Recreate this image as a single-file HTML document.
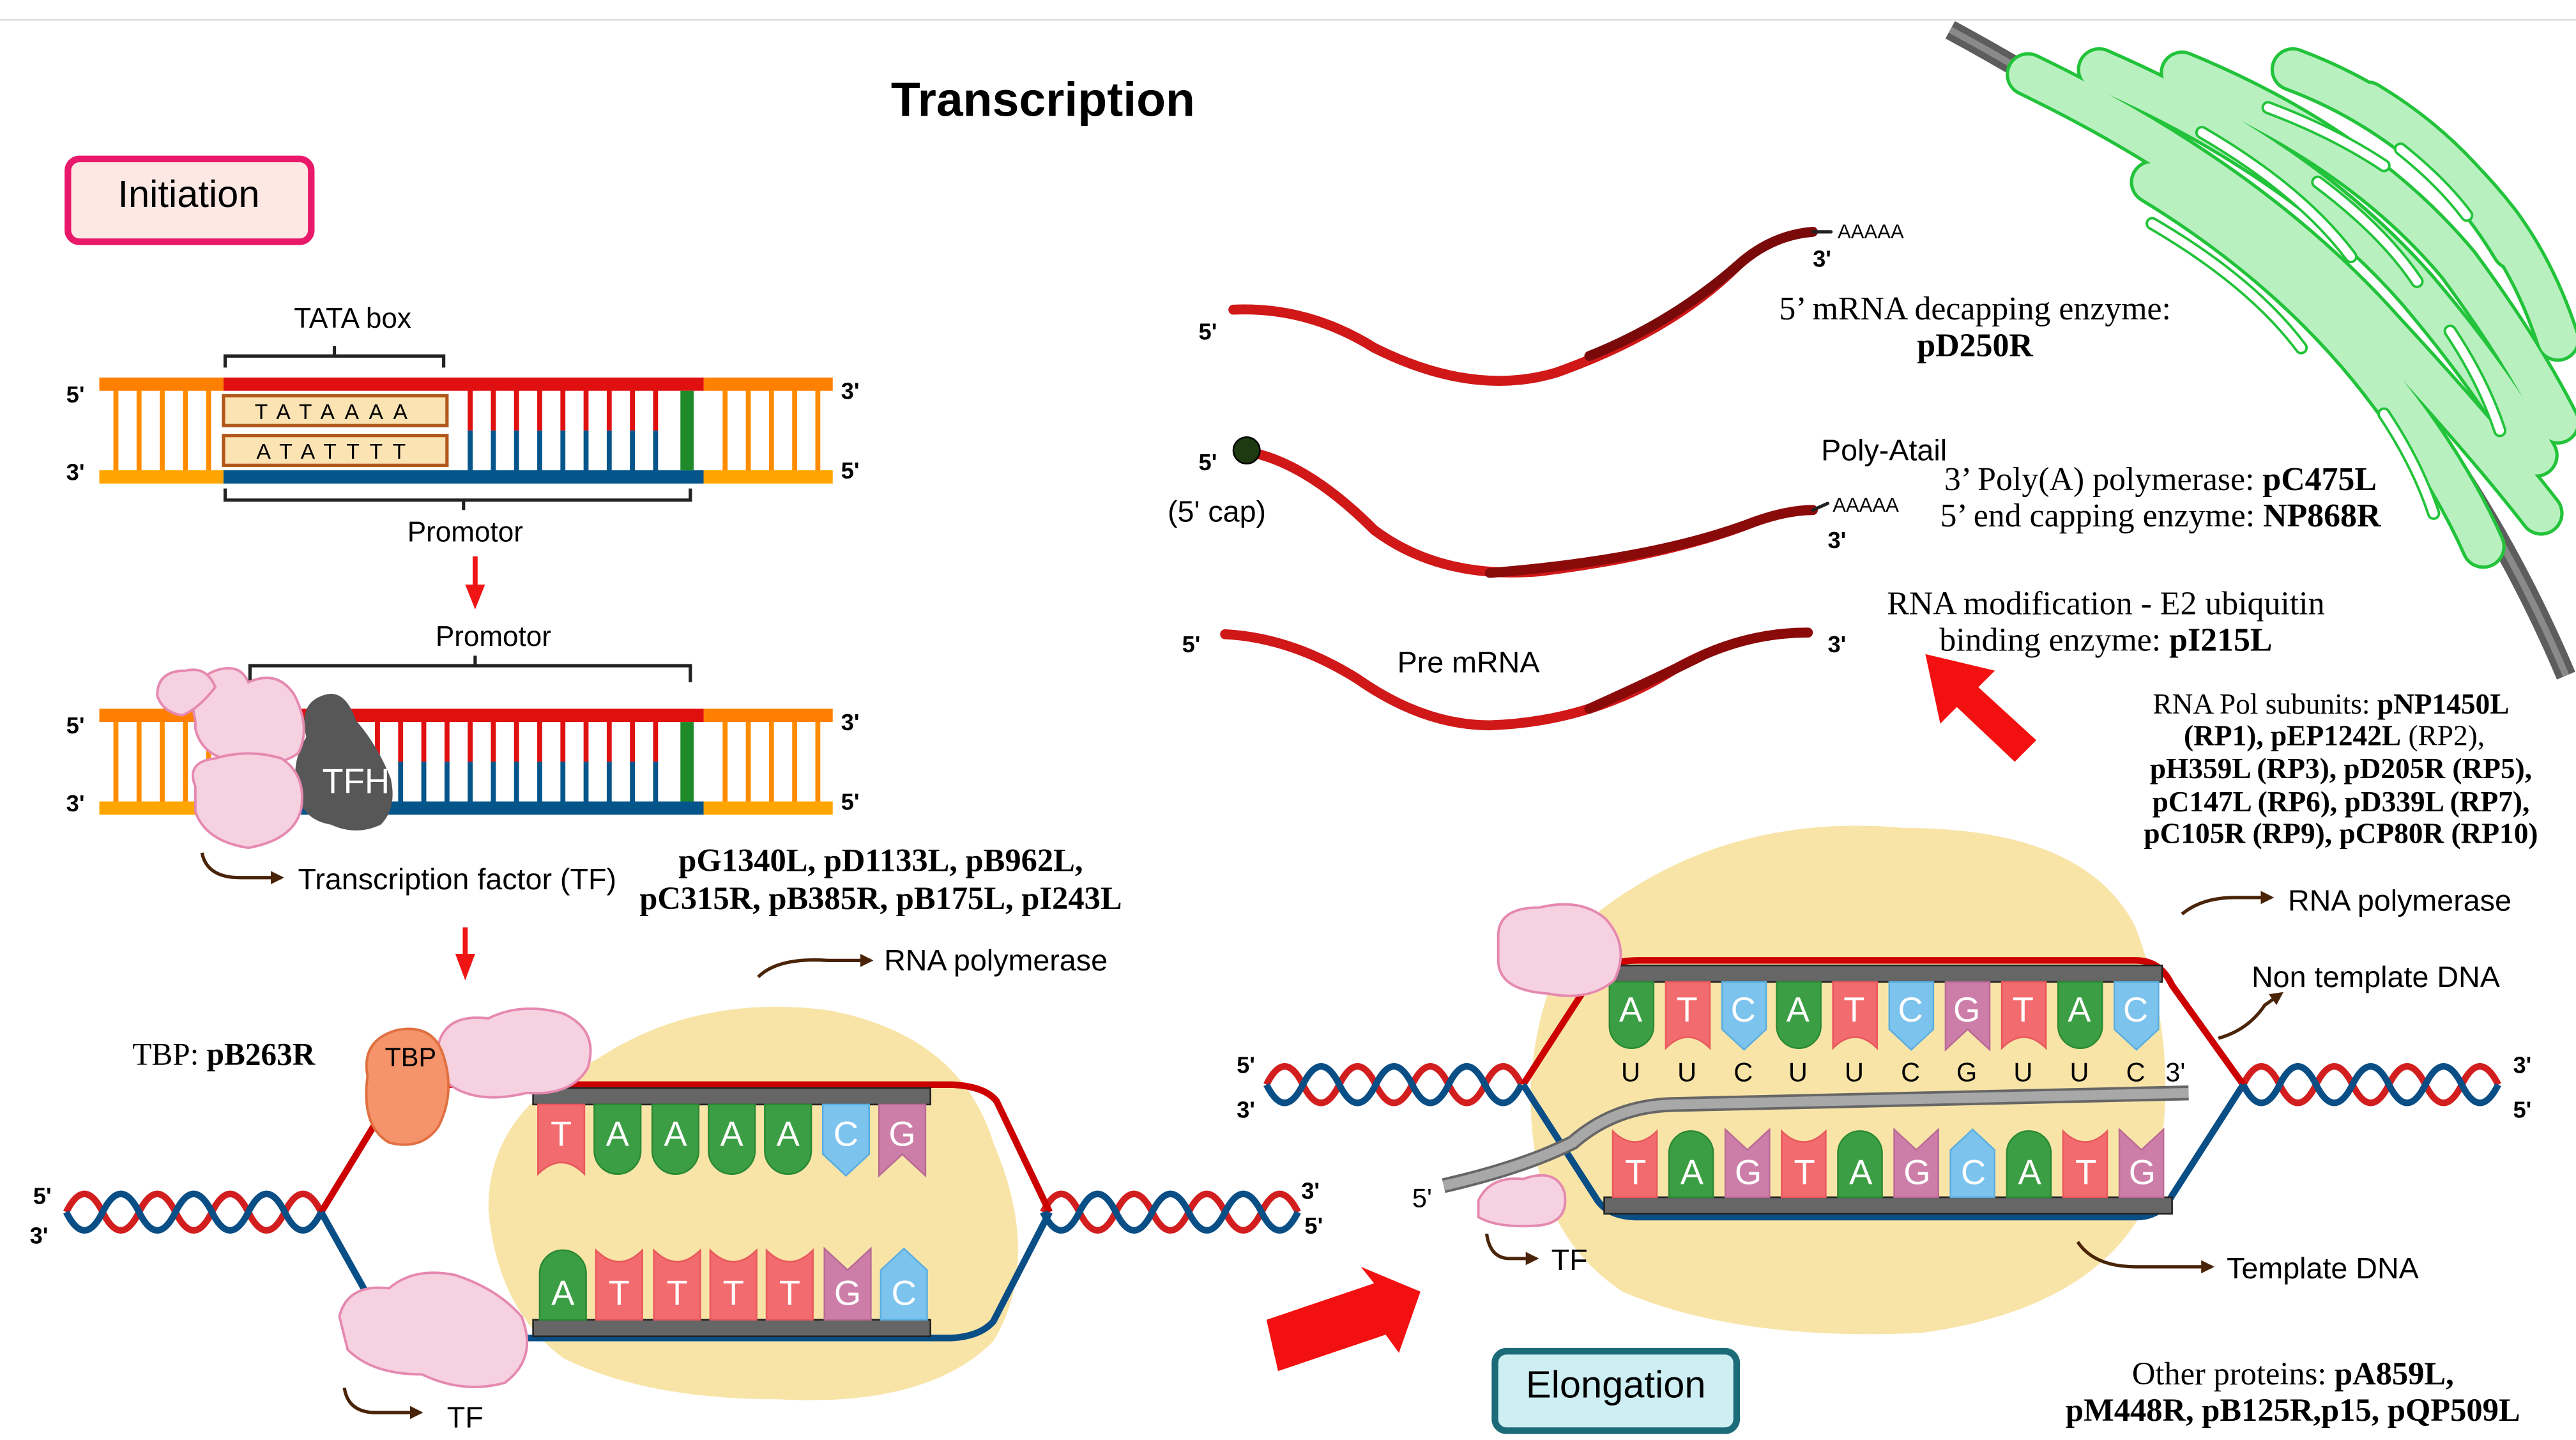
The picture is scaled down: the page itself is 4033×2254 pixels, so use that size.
<!DOCTYPE html>
<html><head><meta charset="utf-8"><style>
html,body{margin:0;padding:0;background:#fff;}
svg{display:block}
.s{font-family:"Liberation Sans",Arial,sans-serif;}
.r{font-family:"Liberation Serif","Times New Roman",serif;}
.tl{font-family:"Liberation Sans",Arial,sans-serif;fill:#fff;font-size:21px;text-anchor:middle;}
</style></head><body>
<svg width="4033" height="2254" viewBox="0 0 1556 869.6" preserveAspectRatio="none" xmlns="http://www.w3.org/2000/svg" xml:space="preserve">
<defs>
<symbol id="tA" viewBox="0 0 28 42" overflow="visible"><path d="M0,0H28V28A14,14 0 0 1 0,28Z" fill="#3c9e44" stroke="#2a8a33" stroke-width="1"/></symbol>
<symbol id="tT" viewBox="0 0 28 42" overflow="visible"><path d="M0,0H28V42Q14,28 0,42Z" fill="#f26b6e" stroke="#e8595d" stroke-width="1"/></symbol>
<symbol id="tC" viewBox="0 0 28 42" overflow="visible"><path d="M0,0H28V30L14,43L0,30Z" fill="#7cc3ed" stroke="#5aaee0" stroke-width="1"/></symbol>
<symbol id="tG" viewBox="0 0 28 42" overflow="visible"><path d="M0,0H28V43L14,30L0,43Z" fill="#cd7ea8" stroke="#b96a95" stroke-width="1"/></symbol>
<marker id="ah" viewBox="0 0 10 10" refX="8" refY="5" markerWidth="4" markerHeight="4" orient="auto"><path d="M0,0L10,5L0,10Z" fill="#4a2408"/></marker>
</defs>

<line x1="0" y1="12" x2="1556" y2="12" stroke="#ddd" stroke-width="1"/>

<!-- membrane + ER -->
<path d="M1178,18 Q1330,100 1420,200 Q1500,290 1550,408" fill="none" stroke="#5d5d5d" stroke-width="12"/>
<path d="M1178,18 Q1330,100 1420,200 Q1500,290 1550,408" fill="none" stroke="#8a8a8a" stroke-width="4"/>
<g fill="none" stroke-linecap="round">
<g stroke="#22c33a" stroke-width="27">
<path d="M1225,45 Q1360,110 1440,200 Q1500,265 1535,310"/>
<path d="M1300,110 Q1390,165 1445,240 Q1480,285 1500,330"/>
<path d="M1268,42 Q1390,95 1460,175 Q1505,228 1532,275"/>
<path d="M1318,44 Q1425,88 1485,160 Q1522,210 1545,255"/>
<path d="M1385,42 Q1460,70 1510,135 Q1532,165 1545,205"/>
<path d="M1430,62 Q1485,95 1518,150"/>
</g>
<g stroke="#b9f0c0" stroke-width="23">
<path d="M1225,45 Q1360,110 1440,200 Q1500,265 1535,310"/>
<path d="M1300,110 Q1390,165 1445,240 Q1480,285 1500,330"/>
<path d="M1268,42 Q1390,95 1460,175 Q1505,228 1532,275"/>
<path d="M1318,44 Q1425,88 1485,160 Q1522,210 1545,255"/>
<path d="M1385,42 Q1460,70 1510,135 Q1532,165 1545,205"/>
<path d="M1430,62 Q1485,95 1518,150"/>
</g>
<g stroke="#22c33a" stroke-width="8"><path d="M1330,80 Q1390,115 1420,155"/><path d="M1300,135 Q1360,170 1390,210"/><path d="M1400,110 Q1440,140 1460,170"/><path d="M1440,250 Q1460,280 1470,310"/><path d="M1480,200 Q1500,230 1510,260"/><path d="M1370,65 Q1410,80 1440,100"/><path d="M1450,90 Q1475,110 1490,130"/></g>
<g stroke="#fff" stroke-width="5"><path d="M1330,80 Q1390,115 1420,155"/><path d="M1300,135 Q1360,170 1390,210"/><path d="M1400,110 Q1440,140 1460,170"/><path d="M1440,250 Q1460,280 1470,310"/><path d="M1480,200 Q1500,230 1510,260"/><path d="M1370,65 Q1410,80 1440,100"/><path d="M1450,90 Q1475,110 1490,130"/></g>
</g>

<text x="630" y="70" class="s" font-size="29" font-weight="bold" text-anchor="middle">Transcription</text>

<!-- Initiation box -->
<rect x="41" y="96" width="147" height="50" rx="7" fill="#fde8e4" stroke="#e8196b" stroke-width="4"/>
<text x="114" y="125" class="s" font-size="23" text-anchor="middle">Initiation</text>

<!-- DNA 1 -->
<g>
<g stroke-width="3">
<path d="M70,232V288M84,232V288M98,232V288M112,232V288M126,232V288" stroke="#ff8c00"/>
<path d="M438,232V288M452,232V288M466,232V288M480,232V288M494,232V288" stroke="#ff8c00"/>
<path d="M284,232V260M298,232V260M312,232V260M326,232V260M340,232V260M354,232V260M368,232V260M382,232V260M396,232V260" stroke="#e01010"/>
<path d="M284,260V288M298,260V288M312,260V288M326,260V288M340,260V288M354,260V288M368,260V288M382,260V288M396,260V288" stroke="#03558a"/>
</g>
<rect x="60" y="228" width="75" height="8" fill="#ff8000"/><rect x="60" y="284" width="75" height="8" fill="#ffa500"/>
<rect x="425" y="228" width="78" height="8" fill="#ff8000"/><rect x="425" y="284" width="78" height="8" fill="#ffa500"/>
<rect x="135" y="228" width="290" height="8" fill="#e01010"/><rect x="135" y="284" width="290" height="8" fill="#03558a"/>
<rect x="411" y="236" width="8" height="48" fill="#1e8a2a"/>
<rect x="135" y="239" width="135" height="18" fill="#fbe3b3" stroke="#b2571a" stroke-width="2"/>
<rect x="135" y="263" width="135" height="18" fill="#fbe3b3" stroke="#b2571a" stroke-width="2"/>
<text x="203" y="253" class="s" font-size="13" text-anchor="middle" letter-spacing="6">TATAAAA</text>
<text x="203" y="277" class="s" font-size="13" text-anchor="middle" letter-spacing="6">ATATTTT</text>
<path d="M136,222V215H268V222M202,215V209" fill="none" stroke="#222" stroke-width="2"/>
<text x="213" y="198" class="s" font-size="17" text-anchor="middle">TATA box</text>
<path d="M136,295V302H417V295M280,302V308" fill="none" stroke="#222" stroke-width="2"/>
<text x="281" y="327" class="s" font-size="17" text-anchor="middle">Promotor</text>
<text x="40" y="243" class="s" font-size="14" font-weight="bold">5'</text><text x="40" y="290" class="s" font-size="14" font-weight="bold">3'</text>
<text x="508" y="241" class="s" font-size="14" font-weight="bold">3'</text><text x="508" y="289" class="s" font-size="14" font-weight="bold">5'</text>
</g>
<path d="M287,336V356" stroke="#f01515" stroke-width="3"/><path d="M281,353L287,368L293,353Z" fill="#f01515"/>

<!-- DNA 2 -->
<g>
<g stroke-width="3">
<path d="M70,432V488M84,432V488M98,432V488M112,432V488M126,432V488" stroke="#ff8c00"/>
<path d="M438,432V488M452,432V488M466,432V488M480,432V488M494,432V488" stroke="#ff8c00"/>
<path d="M200,432V460M214,432V460M228,432V460M242,432V460M256,432V460M270,432V460M284,432V460M298,432V460M312,432V460M326,432V460M340,432V460M354,432V460M368,432V460M382,432V460M396,432V460" stroke="#e01010"/>
<path d="M200,460V488M214,460V488M228,460V488M242,460V488M256,460V488M270,460V488M284,460V488M298,460V488M312,460V488M326,460V488M340,460V488M354,460V488M368,460V488M382,460V488M396,460V488" stroke="#03558a"/>
</g>
<rect x="60" y="428" width="90" height="8" fill="#ff8000"/><rect x="60" y="484" width="90" height="8" fill="#ffa500"/>
<rect x="425" y="428" width="78" height="8" fill="#ff8000"/><rect x="425" y="484" width="78" height="8" fill="#ffa500"/>
<rect x="150" y="428" width="275" height="8" fill="#e01010"/><rect x="150" y="484" width="275" height="8" fill="#03558a"/>
<rect x="411" y="436" width="8" height="48" fill="#1e8a2a"/>
<path d="M151,412V402H417V412M287,402V396" fill="none" stroke="#222" stroke-width="2"/>
<text x="298" y="390" class="s" font-size="17" text-anchor="middle">Promotor</text>
<text x="40" y="443" class="s" font-size="14" font-weight="bold">5'</text><text x="40" y="490" class="s" font-size="14" font-weight="bold">3'</text>
<text x="508" y="441" class="s" font-size="14" font-weight="bold">3'</text><text x="508" y="489" class="s" font-size="14" font-weight="bold">5'</text>
<path d="M185,445Q180,425 195,420Q208,415 215,435Q228,450 236,470Q240,488 230,498Q215,505 200,498Q182,495 180,478Q175,462 185,445Z" fill="#575757"/>
<text x="215" y="479" class="tl" font-size="14">TFH</text>
<g fill="#f6d1df" stroke="#e589b0" stroke-width="1.5">
<path d="M118,435Q112,412 130,405Q145,400 150,412Q168,404 178,420Q188,440 180,455Q165,465 145,460Q122,458 118,440Z"/>
<path d="M95,420Q95,405 112,405Q125,402 130,415Q120,428 110,432Q98,430 95,420Z"/>
<path d="M118,475Q112,460 130,458Q150,452 170,458Q185,468 182,488Q178,507 150,512Q124,508 118,490Z"/>
</g>
</g>
<path d="M122,515Q125,530 145,530H170" fill="none" stroke="#4a2408" stroke-width="2" marker-end="url(#ah)"/>
<text x="180" y="537" class="s" font-size="18">Transcription factor (TF)</text>
<text x="532" y="526" class="r" font-size="19.5" font-weight="bold" text-anchor="middle">pG1340L, pD1133L, pB962L,</text>
<text x="532" y="549" class="r" font-size="19.5" font-weight="bold" text-anchor="middle">pC315R, pB385R, pB175L, pI243L</text>
<path d="M281,560V578" stroke="#f01515" stroke-width="3"/><path d="M275,576L281,592L287,576Z" fill="#f01515"/>

<!-- Initiation bubble -->
<path d="M360,640Q420,600 500,610Q580,625 600,690Q630,760 600,810Q560,850 470,845Q390,845 340,820Q300,790 295,730Q295,670 360,640Z" fill="#f9e4a8"/>
<g fill="none" stroke-width="4">
<path d="M40,732q11,-22 22,0t22,0t22,0t22,0t22,0t22,0t22,0" stroke="#d21e1e"/>
<path d="M40,732q11,22 22,0t22,0t22,0t22,0t22,0t22,0t22,0" stroke="#0a4e86"/>
<path d="M630,732q11,-22 22,0t22,0t22,0t22,0t22,0t22,0t22,0" stroke="#d21e1e"/>
<path d="M630,732q11,22 22,0t22,0t22,0t22,0t22,0t22,0t22,0" stroke="#0a4e86"/>
<path d="M194,732L238,660Q245,654 260,655H575Q595,656 602,665L634,732" stroke="#cc0000"/>
<path d="M194,732L232,800Q238,808 255,808H575Q592,807 600,798L634,732" stroke="#0a4e86"/>
</g>
<text x="20" y="727" class="s" font-size="14" font-weight="bold">5'</text><text x="18" y="751" class="s" font-size="14" font-weight="bold">3'</text>
<text x="786" y="724" class="s" font-size="14" font-weight="bold">3'</text><text x="788" y="745" class="s" font-size="14" font-weight="bold">5'</text>
<rect x="322" y="657" width="240" height="10" fill="#666" stroke="#222" stroke-width="1"/>
<use href="#tT" x="325" y="667" width="28" height="42"/><use href="#tA" x="359" y="667" width="28" height="42"/><use href="#tA" x="394" y="667" width="28" height="42"/><use href="#tA" x="428" y="667" width="28" height="42"/><use href="#tA" x="462" y="667" width="28" height="42"/><use href="#tC" x="497" y="667" width="28" height="42"/><use href="#tG" x="531" y="667" width="28" height="42"/>
<text class="tl" y="692"><tspan x="339">T</tspan><tspan x="373">A</tspan><tspan x="408">A</tspan><tspan x="442">A</tspan><tspan x="476">A</tspan><tspan x="511">C</tspan><tspan x="545">G</tspan></text>
<rect x="322" y="797" width="240" height="10" fill="#666" stroke="#222" stroke-width="1"/>
<g transform="translate(0,1554) scale(1,-1)">
<use href="#tA" x="326" y="757" width="28" height="42"/><use href="#tT" x="360" y="757" width="28" height="42"/><use href="#tT" x="395" y="757" width="28" height="42"/><use href="#tT" x="429" y="757" width="28" height="42"/><use href="#tT" x="463" y="757" width="28" height="42"/><use href="#tG" x="498" y="757" width="28" height="42"/><use href="#tC" x="532" y="757" width="28" height="42"/>
</g>
<text class="tl" y="788"><tspan x="340">A</tspan><tspan x="374">T</tspan><tspan x="409">T</tspan><tspan x="443">T</tspan><tspan x="477">T</tspan><tspan x="512">G</tspan><tspan x="546">C</tspan></text>
<g fill="#f6d1df" stroke="#e589b0" stroke-width="1.5">
<path d="M265,630Q270,612 295,615Q315,605 340,612Q362,622 355,645Q345,662 318,660Q285,668 268,652Z"/>
<path d="M205,795Q210,775 235,778Q250,765 275,770Q300,778 315,795Q325,820 305,835Q280,842 255,830Q225,830 210,815Z"/>
</g>
<path d="M222,650Q218,628 240,622Q262,618 268,638Q275,660 265,680Q255,695 235,690Q218,680 222,650Z" fill="#f5936b" stroke="#e07040" stroke-width="1.5"/>
<text x="248" y="644" class="s" font-size="16" text-anchor="middle">TBP</text>
<text x="80" y="643" class="r" font-size="19">TBP: <tspan font-weight="bold">pB263R</tspan></text>
<path d="M458,590Q470,578 500,580H526" fill="none" stroke="#4a2408" stroke-width="2" marker-end="url(#ah)"/>
<text x="534" y="586" class="s" font-size="18">RNA polymerase</text>
<path d="M208,838Q210,852 225,853H254" fill="none" stroke="#4a2408" stroke-width="2" marker-end="url(#ah)"/>
<text x="270" y="862" class="s" font-size="18">TF</text>

<!-- big arrows -->
<path d="M765,797L830,775L822,765L858,780L845,817L837,806L772,828Z" fill="#f31010"/>
<path d="M1230,447L1195,415L1205,405L1163,395L1172,437L1182,427L1217,460Z" fill="#f31010"/>

<!-- Elongation -->
<path d="M960,555Q1040,490 1150,500Q1260,500 1290,560Q1320,640 1300,720Q1270,790 1160,805Q1050,810 980,780Q920,740 925,650Q930,590 960,555Z" fill="#f9e4a8"/>
<g fill="none" stroke-width="4">
<path d="M765,655q11,-22 22,0t22,0t22,0t22,0t22,0t22,0t22,0" stroke="#d21e1e"/>
<path d="M765,655q11,22 22,0t22,0t22,0t22,0t22,0t22,0t22,0" stroke="#0a4e86"/>
<path d="M1355,655q11,-22 22,0t22,0t22,0t22,0t22,0t22,0t22,0" stroke="#d21e1e"/>
<path d="M1355,655q11,22 22,0t22,0t22,0t22,0t22,0t22,0t22,0" stroke="#0a4e86"/>
<path d="M920,655L962,590Q970,580 990,580H1290Q1305,580 1312,595L1355,655" stroke="#cc0000"/>
<path d="M920,655L965,725Q972,735 990,735H1290Q1305,735 1312,722L1355,655" stroke="#0a4e86"/>
</g>
<text x="747" y="648" class="s" font-size="14" font-weight="bold">5'</text><text x="747" y="675" class="s" font-size="14" font-weight="bold">3'</text>
<text x="1518" y="648" class="s" font-size="14" font-weight="bold">3'</text><text x="1518" y="675" class="s" font-size="14" font-weight="bold">5'</text>
<rect x="969" y="583" width="337" height="10" fill="#666" stroke="#222" stroke-width="1"/>
<use href="#tA" x="972" y="593" width="27" height="40"/><use href="#tT" x="1006" y="593" width="27" height="40"/><use href="#tC" x="1040" y="593" width="27" height="40"/><use href="#tA" x="1073" y="593" width="27" height="40"/><use href="#tT" x="1107" y="593" width="27" height="40"/><use href="#tC" x="1141" y="593" width="27" height="40"/><use href="#tG" x="1175" y="593" width="27" height="40"/><use href="#tT" x="1209" y="593" width="27" height="40"/><use href="#tA" x="1243" y="593" width="27" height="40"/><use href="#tC" x="1277" y="593" width="27" height="40"/>
<text class="tl" y="617"><tspan x="985">A</tspan><tspan x="1019">T</tspan><tspan x="1053">C</tspan><tspan x="1086">A</tspan><tspan x="1120">T</tspan><tspan x="1154">C</tspan><tspan x="1188">G</tspan><tspan x="1222">T</tspan><tspan x="1256">A</tspan><tspan x="1290">C</tspan></text>
<text class="s" y="653" font-size="16" text-anchor="middle"><tspan x="985">U</tspan><tspan x="1019">U</tspan><tspan x="1053">C</tspan><tspan x="1086">U</tspan><tspan x="1120">U</tspan><tspan x="1154">C</tspan><tspan x="1188">G</tspan><tspan x="1222">U</tspan><tspan x="1256">U</tspan><tspan x="1290">C</tspan><tspan x="1314">3'</tspan></text>
<path d="M872,716Q920,705 950,690Q975,668 1010,667L1322,660" fill="none" stroke="#666" stroke-width="9"/>
<path d="M872,716Q920,705 950,690Q975,668 1010,667L1322,660" fill="none" stroke="#a8a8a8" stroke-width="6"/>
<rect x="969" y="723" width="343" height="10" fill="#666" stroke="#222" stroke-width="1"/>
<g transform="translate(0,1406) scale(1,-1)">
<use href="#tT" x="974" y="683" width="27" height="40"/><use href="#tA" x="1008" y="683" width="27" height="40"/><use href="#tG" x="1042" y="683" width="27" height="40"/><use href="#tT" x="1076" y="683" width="27" height="40"/><use href="#tA" x="1110" y="683" width="27" height="40"/><use href="#tG" x="1144" y="683" width="27" height="40"/><use href="#tC" x="1178" y="683" width="27" height="40"/><use href="#tA" x="1212" y="683" width="27" height="40"/><use href="#tT" x="1246" y="683" width="27" height="40"/><use href="#tG" x="1280" y="683" width="27" height="40"/>
</g>
<text class="tl" y="715"><tspan x="988">T</tspan><tspan x="1022">A</tspan><tspan x="1056">G</tspan><tspan x="1090">T</tspan><tspan x="1124">A</tspan><tspan x="1158">G</tspan><tspan x="1192">C</tspan><tspan x="1226">A</tspan><tspan x="1260">T</tspan><tspan x="1294">G</tspan></text>
<g fill="#f6d1df" stroke="#e589b0" stroke-width="1.5">
<path d="M905,565Q905,548 930,548Q955,542 970,555Q985,572 975,592Q960,605 935,600Q905,598 905,580Z"/>
<path d="M893,725Q900,710 920,712Q940,705 945,720Q948,738 930,740Q905,742 893,735Z"/>
</g>
<text x="853" y="729" class="s" font-size="16">5'</text>
<path d="M898,745Q900,760 912,760H928" fill="none" stroke="#4a2408" stroke-width="2" marker-end="url(#ah)"/>
<text x="937" y="767" class="s" font-size="18">TF</text>
<path d="M1318,552Q1330,542 1350,542H1372" fill="none" stroke="#4a2408" stroke-width="2" marker-end="url(#ah)"/>
<text x="1382" y="550" class="s" font-size="18">RNA polymerase</text>
<path d="M1340,627Q1358,622 1368,607L1378,600" fill="none" stroke="#4a2408" stroke-width="2" marker-end="url(#ah)"/>
<text x="1360" y="596" class="s" font-size="18">Non template DNA</text>
<path d="M1255,750Q1265,765 1290,765H1336" fill="none" stroke="#4a2408" stroke-width="2" marker-end="url(#ah)"/>
<text x="1345" y="772" class="s" font-size="18">Template DNA</text>
<rect x="903" y="816" width="146" height="48" rx="7" fill="#cdeef3" stroke="#1b6b78" stroke-width="4"/>
<text x="976" y="844" class="s" font-size="23" text-anchor="middle">Elongation</text>
<text x="1385" y="836" class="r" font-size="19.5" text-anchor="middle">Other proteins: <tspan font-weight="bold">pA859L,</tspan></text>
<text x="1385" y="858" class="r" font-size="19.5" font-weight="bold" text-anchor="middle">pM448R, pB125R,p15, pQP509L</text>
<g class="r" font-size="17.5" text-anchor="middle">
<text x="1408" y="431">RNA Pol subunits: <tspan font-weight="bold">pNP1450L</tspan></text>
<text x="1410" y="450"><tspan font-weight="bold">(RP1), pEP1242L</tspan>   (RP2),</text>
<text x="1414" y="470" font-weight="bold">pH359L   (RP3), pD205R   (RP5),</text>
<text x="1414" y="490" font-weight="bold">pC147L   (RP6), pD339L   (RP7),</text>
<text x="1414" y="509" font-weight="bold">pC105R   (RP9), pCP80R   (RP10)</text>
</g>

<!-- mRNAs -->
<g fill="none" stroke-linecap="round">
<path d="M745,187Q790,185 830,210Q890,240 940,225Q1010,200 1050,160Q1070,142 1095,140" stroke="#d01818" stroke-width="6"/>
<path d="M960,215Q1010,195 1050,160Q1070,142 1095,140" stroke="#7a0a0a" stroke-width="6"/>
<path d="M1095,140H1106" stroke="#222" stroke-width="2"/>
<path d="M755,273Q790,280 830,320Q870,350 930,345Q1010,335 1060,315Q1080,308 1095,308" stroke="#d01818" stroke-width="6"/>
<path d="M900,346Q1000,338 1060,315Q1080,308 1095,308" stroke="#8a0a0a" stroke-width="6"/>
<path d="M1095,308L1104,304" stroke="#222" stroke-width="2"/>
<path d="M740,383Q780,385 820,410Q860,438 900,438Q960,436 1010,405Q1050,382 1092,382" stroke="#d01818" stroke-width="6"/>
<path d="M960,428Q1000,410 1030,395Q1060,382 1092,382" stroke="#8a0a0a" stroke-width="6"/>
</g>
<circle cx="753" cy="272" r="8" fill="#1d3a10" stroke="#000" stroke-width="1"/>
<text x="1110" y="144" class="s" font-size="12">AAAAA</text>
<text x="1095" y="161" class="s" font-size="14" font-weight="bold">3'</text>
<text x="724" y="205" class="s" font-size="14" font-weight="bold">5'</text>
<text x="1193" y="193" class="r" font-size="20" text-anchor="middle">5’ mRNA decapping  enzyme:</text>
<text x="1193" y="215" class="r" font-size="20" font-weight="bold" text-anchor="middle">pD250R</text>
<text x="724" y="284" class="s" font-size="14" font-weight="bold">5'</text>
<text x="735" y="315" class="s" font-size="18" text-anchor="middle">(5' cap)</text>
<text x="1138" y="278" class="s" font-size="18" text-anchor="middle">Poly-Atail</text>
<text x="1107" y="309" class="s" font-size="12">AAAAA</text>
<text x="1104" y="331" class="s" font-size="14" font-weight="bold">3'</text>
<text x="1305" y="296" class="r" font-size="20" text-anchor="middle">3’ Poly(A) polymerase: <tspan font-weight="bold">pC475L</tspan></text>
<text x="1305" y="318" class="r" font-size="20" text-anchor="middle">5’ end capping   enzyme: <tspan font-weight="bold">NP868R</tspan></text>
<text x="714" y="394" class="s" font-size="14" font-weight="bold">5'</text>
<text x="1104" y="394" class="s" font-size="14" font-weight="bold">3'</text>
<text x="887" y="406" class="s" font-size="18" text-anchor="middle">Pre mRNA</text>
<text x="1272" y="371" class="r" font-size="20" text-anchor="middle">RNA   modification - E2 ubiquitin</text>
<text x="1272" y="393" class="r" font-size="20" text-anchor="middle">binding enzyme: <tspan font-weight="bold">pI215L</tspan></text>
</svg>
</body></html>
